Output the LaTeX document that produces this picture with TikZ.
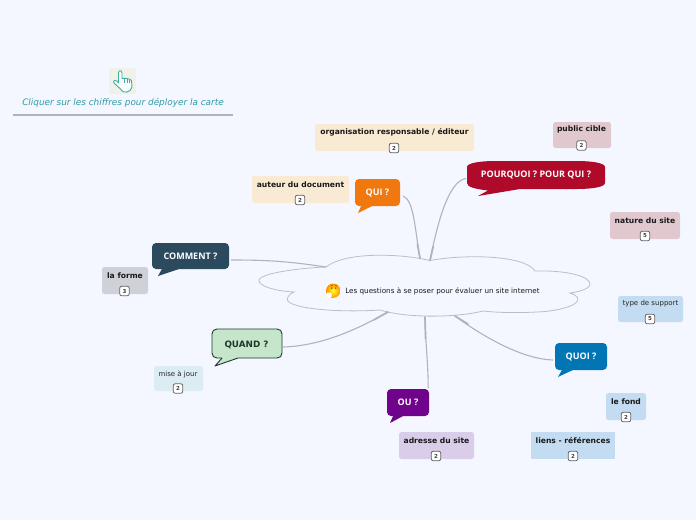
\documentclass[tikz,border=0pt]{standalone}
\usetikzlibrary{calc}
\usepackage{fontspec}
\setmainfont{DejaVu Sans}
\newfontfamily\headfont{Open Sans}
\definecolor{pagebg}{HTML}{F4F7FF}
\definecolor{linkc}{HTML}{B2B2BC}
\definecolor{cloudc}{HTML}{BDBDC6}
\definecolor{peach}{HTML}{F9EAD3}
\definecolor{rosec}{HTML}{E1C8CF}
\definecolor{bluec}{HTML}{C3DCF1}
\definecolor{lilac}{HTML}{DACDE9}
\definecolor{paleb}{HTML}{DCECF3}
\definecolor{greyc}{HTML}{CFD1D8}
\definecolor{orangec}{HTML}{F0780E}
\definecolor{redc}{HTML}{B00A2A}
\definecolor{blue2}{HTML}{0276B4}
\definecolor{purplec}{HTML}{6F038B}
\definecolor{greenc}{HTML}{C5E6CA}
\definecolor{greend}{HTML}{1C3A2A}
\definecolor{slatec}{HTML}{2B4A5E}
\definecolor{tealc}{HTML}{2E9AA5}
\definecolor{handc}{HTML}{3FAE96}
\definecolor{iconbg}{HTML}{F0F2EA}
\tikzset{
  leaf/.style={rounded corners=2.5pt,inner sep=0pt},
  leaftext/.style={inner sep=0pt,yshift=-0.7pt,font=\fontsize{7.6}{9}\selectfont\bfseries,text=black!90},
  leafplain/.style={inner sep=0pt,yshift=-0.7pt,font=\fontsize{7}{9}\selectfont,text=black!85},
  badge/.style={draw=black!60,fill=white,line width=0.8pt,rounded corners=2pt,minimum width=9.5pt,minimum height=9.5pt,inner sep=0pt,font=\fontsize{5.5}{6}\selectfont\bfseries,text=black!75},
  bubble/.style={rounded corners=4pt,inner sep=0pt,text=white,font=\headfont\fontsize{9}{10}\selectfont\bfseries},
  link/.style={draw=linkc,line width=1.1pt,line cap=round},
  linkend/.style={draw=linkc,line width=1.7pt,line cap=round},
}
\begin{document}
\begin{tikzpicture}[x=1pt,y=-1pt]
\useasboundingbox (0,0) rectangle (696,520);
\fill[pagebg] (0,0) rectangle (696,520);

% hint
\fill[iconbg, rounded corners=2pt] (109,68) rectangle (136,94);
\draw[handc,line width=0.9pt,line join=round,fill=pagebg!40!white]
  (118.5,73) .. controls (118.5,70) and (122,70) .. (122,73) -- (122,78.5)
  .. controls (125,78) and (130,78.5) .. (131.5,80.5) -- (132,87)
  .. controls (131,93) and (122,94) .. (120.5,89) -- (114,83)
  .. controls (112.5,80.5) and (115.5,79.5) .. (117,81) -- (118.5,83) -- cycle;
\draw[handc,line width=0.6pt] (124.5,79) -- (124.5,82.5) (127,79.3) -- (127,82.5) (129.5,80) -- (129.5,82.5);
\node[inner sep=0pt,text=tealc,font=\fontsize{8.9}{10}\selectfont\itshape] (hint) at (123,103) {Cliquer sur les chiffres pour déployer la carte};
\draw[linkc,line width=2pt] (13,114.5) -- (233,114.5);

% central cloud
\draw[cloudc,line width=0.8pt,fill=pagebg]
  (326,267) .. controls (345,252) and (395,254) .. (420,258.5)
  -- (430,260.5) .. controls (465,254) and (525,255) .. (535,271)
  .. controls (565,270) and (590,276) .. (590,284)
  .. controls (590,289) and (578,292) .. (570,293)
  .. controls (586,298) and (578,308) .. (545,311.5)
  .. controls (525,313) and (500,313) .. (483,311)
  .. controls (460,317) and (410,319) .. (380,310)
  .. controls (335,313) and (280,308) .. (288,297)
  .. controls (289,295) and (291,293) .. (294,292)
  .. controls (275,291) and (258,286) .. (259,280)
  .. controls (261,273) and (300,268) .. (326,267) -- cycle;
\coordinate (cQui) at (420,258.5);
\coordinate (cPour) at (430,260.5);
\coordinate (cComment) at (326,267);
\coordinate (cQuand) at (388,312);
\coordinate (cOu) at (425,317);
\coordinate (cQuoi) at (455,316);

% emoji
\shade[inner color=yellow!85!white,outer color=orange!85!yellow] (333.2,290.7) circle (7.2);
\fill[black!70] (331.8,288) circle (0.8) (335.8,288) circle (0.8);
\draw[black!65,line width=0.5pt] (330.5,286) -- (332.8,285.3) (335,285.3) -- (337,286);
\fill[white,rounded corners=1pt] (326.5,292.5) rectangle (331.5,297.5);
\node[inner sep=0pt,font=\fontsize{7.2}{8}\selectfont,text=black!90] (central) at (442.5,290.9) {Les questions à se poser pour évaluer un site internet};

% callouts
\fill[orangec] (362,204) -- (358,213) -- (372,206) -- cycle;
\node[bubble,fill=orangec,minimum width=45pt,minimum height=27pt] (qui) at (377.5,192.5) {\raisebox{-1.2pt}{QUI ?}};

\fill[redc] (467,167) .. controls (467,163) and (480,161) .. (495,161) -- (577,161)
  .. controls (592,161) and (605,163) .. (605,167) -- (605,183)
  .. controls (605,187) and (592,189) .. (577,189) -- (520,189)
  -- (478,196) -- (488,190.5) .. controls (475,189) and (467,187) .. (467,183) -- cycle;
\node[bubble,minimum width=138pt,minimum height=27pt] (pour) at (536,174.5) {\raisebox{-1.2pt}{POURQUOI ? POUR QUI ?}};

\fill[blue2] (563,368) -- (558,377) -- (575,369) -- cycle;
\node[bubble,fill=blue2,minimum width=52pt,minimum height=27pt] (quoi) at (581,356.5) {\raisebox{-1.2pt}{QUOI ?}};

\fill[purplec] (394,414) -- (390,423) -- (405,415) -- cycle;
\node[bubble,fill=purplec,minimum width=42pt,minimum height=27pt] (ou) at (408,402.5) {\raisebox{-1.2pt}{OU ?}};

\fill[slatec] (163,267) -- (158,276) -- (182,268) -- cycle;
\node[bubble,fill=slatec,minimum width=77pt,minimum height=26pt] (comment) at (190.5,256) {\raisebox{-1.2pt}{COMMENT ?}};

\draw[greend,line width=0.9pt,fill=greenc,line join=round]
  (222,358) -- (215,366) -- (238,358) -- (277,358)
  .. controls (280,358) and (282,356) .. (282,353)
  -- (282,334) .. controls (282,331) and (280,329) .. (277,329)
  -- (217,329) .. controls (214,329) and (212,331) .. (212,334)
  -- (212,353) .. controls (212,356) and (214,358) .. (217,358) -- cycle;
\node[inner sep=0pt,text=greend,font=\fontsize{8.8}{10}\selectfont\bfseries] (quand) at (246.5,344.5) {QUAND ?};
\coordinate (quandE) at (283,347);

% connectors
\draw[link] ($(qui.east)+(3,3.5)$) .. controls +(11,4.5) and ($(cQui)+(-5,-28)$) .. (cQui);
\draw[link] ($(pour.west)+(-1,4)$) .. controls +(-18,3) and ($(cPour)+(7,-35)$) .. (cPour);
\draw[link] ($(comment.east)+(2,4)$) .. controls +(35,0) and ($(cComment)+(-40,-6)$) .. (cComment);
\draw[link] (quandE) .. controls +(35,-1) and ($(cQuand)+(-35,20)$) .. (cQuand);
\draw[link] ($(ou.north east)+(-1,-1)$) .. controls +(0,-25) and ($(cOu)+(0,20)$) .. (cOu);
\draw[link] ($(quoi.west)+(-2,3.5)$) .. controls +(-30,-1) and ($(cQuoi)+(30,22)$) .. (cQuoi);
% thicker roots near the cloud
\draw[linkend] ($(cQui)+(-2.5,-14)$) -- (cQui);
\draw[linkend] ($(cPour)+(3.2,-14)$) -- (cPour);
\draw[linkend] ($(cQuand)+(-14,7.8)$) -- (cQuand);
\draw[linkend] ($(cOu)+(0.6,22)$) -- (cOu);
\draw[linkend] ($(cQuoi)+(13,8)$) -- (cQuoi);

% leaves
\node[leaf,fill=peach,minimum width=159pt,minimum height=27pt] (org) at (394.5,137.5) {};
\node[leaftext] (orgT) at (394.5,132) {organisation responsable / éditeur};
\node[badge] (orgB) at (394,148) {2};

\node[leaf,fill=peach,minimum width=97pt,minimum height=27pt] (aut) at (300.5,189.5) {};
\node[leaftext] (autT) at (300.5,184) {auteur du document};
\node[badge] (autB) at (300,200) {2};

\node[leaf,fill=rosec,minimum width=58pt,minimum height=26pt] (pub) at (582,135) {};
\node[leaftext] (pubT) at (581.5,129) {public cible};
\node[badge] (pubB) at (581.5,145.5) {2};

\node[leaf,fill=rosec,minimum width=70pt,minimum height=27pt] (nat) at (645,225.5) {};
\node[leaftext] (natT) at (645,220) {nature du site};
\node[badge] (natB) at (645,236) {5};

\node[leaf,fill=bluec,minimum width=65pt,minimum height=26pt] (typ) at (650.5,309) {};
\node[leafplain] (typT) at (650.5,303) {type de support};
\node[badge] (typB) at (650,319) {5};

\node[leaf,fill=bluec,minimum width=40pt,minimum height=27pt] (fond) at (626,406.5) {};
\node[leaftext] (fondT) at (626,401) {le fond};
\node[badge] (fondB) at (626,417) {2};

\node[fill=bluec,inner sep=0pt,minimum width=84pt,minimum height=27pt] (lie) at (573,445.5) {};
\node[leaftext] (lieT) at (573,440) {liens - références};
\node[badge] (lieB) at (573,456) {2};

\node[leaf,fill=lilac,minimum width=75pt,minimum height=27pt] (adr) at (436.5,445.5) {};
\node[leaftext] (adrT) at (436.5,440) {adresse du site};
\node[badge] (adrB) at (436,456) {2};

\node[leaf,fill=paleb,minimum width=49pt,minimum height=25pt] (mis) at (178.5,378.5) {};
\node[leafplain] (misT) at (178,373.5) {mise à jour};
\node[badge] (misB) at (178,388.5) {2};

\node[leaf,fill=greyc,minimum width=46pt,minimum height=27pt] (form) at (125,280.5) {};
\node[leaftext] (formT) at (125,275) {la forme};
\node[badge] (formB) at (124.5,291) {3};
\end{tikzpicture}
\end{document}
